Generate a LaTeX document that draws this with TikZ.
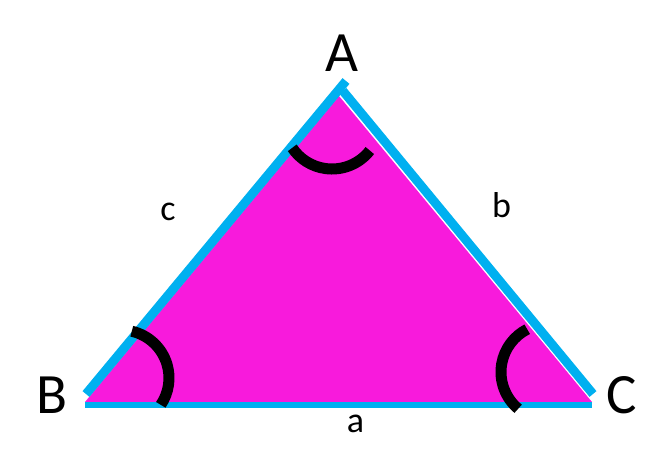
\documentclass[tikz,border=0pt]{standalone}
\usepackage{fontspec}
\setmainfont{Carlito}
\definecolor{tri}{RGB}{248,26,220}
\definecolor{side}{RGB}{0,176,240}
\begin{document}
\begin{tikzpicture}[x=1pt,y=-1pt,
  sideline/.style={draw=side,line width=9pt},
  baseline/.style={draw=side,line width=6pt},
  anglemark/.style={draw=black,line width=11pt},
  vlabel/.style={inner sep=0pt,font=\fontsize{57}{60}\selectfont},
  slabel/.style={inner sep=0pt,font=\fontsize{36}{40}\selectfont}]
\useasboundingbox (0,0) rectangle (672,467);
% vertices
\coordinate (A) at (339,96);
\coordinate (B) at (85,402);
\coordinate (C) at (592,402);
\fill[tri] (A) -- (B) -- (C) -- cycle;
% sides
\coordinate (cB) at (86,394);
\coordinate (cA) at (346,81);
\coordinate (bA) at (343,91);
\coordinate (bC) at (593,394);
\coordinate (aB) at (85,405);
\coordinate (aC) at (592,405);
\draw[sideline] (cB) -- (cA);
\draw[sideline] (bA) -- (bC);
\draw[baseline] (aB) -- (aC);
% angle marks
\coordinate (mA) at (332,121);
\coordinate (mB) at (121,378);
\coordinate (mC) at (549,372);
\draw[anglemark] ([shift={(38:48)}]mA) arc[start angle=38,end angle=146,radius=48];
\draw[anglemark] ([shift={(-77:48)}]mB) arc[start angle=-77,end angle=34,radius=48];
\draw[anglemark] ([shift={(130:48)}]mC) arc[start angle=130,end angle=243,radius=48];
% labels
\node[vlabel] (lA) at (341.7,53.3) {A};
\node[vlabel] (lB) at (52.5,395.5) {B};
\node[vlabel] (lC) at (621.5,395.5) {C};
\node[slabel] (la) at (355.5,423.5) {a};
\node[slabel] (lb) at (501.5,205) {b};
\node[slabel] (lc) at (168,211.5) {c};
\end{tikzpicture}
\end{document}
